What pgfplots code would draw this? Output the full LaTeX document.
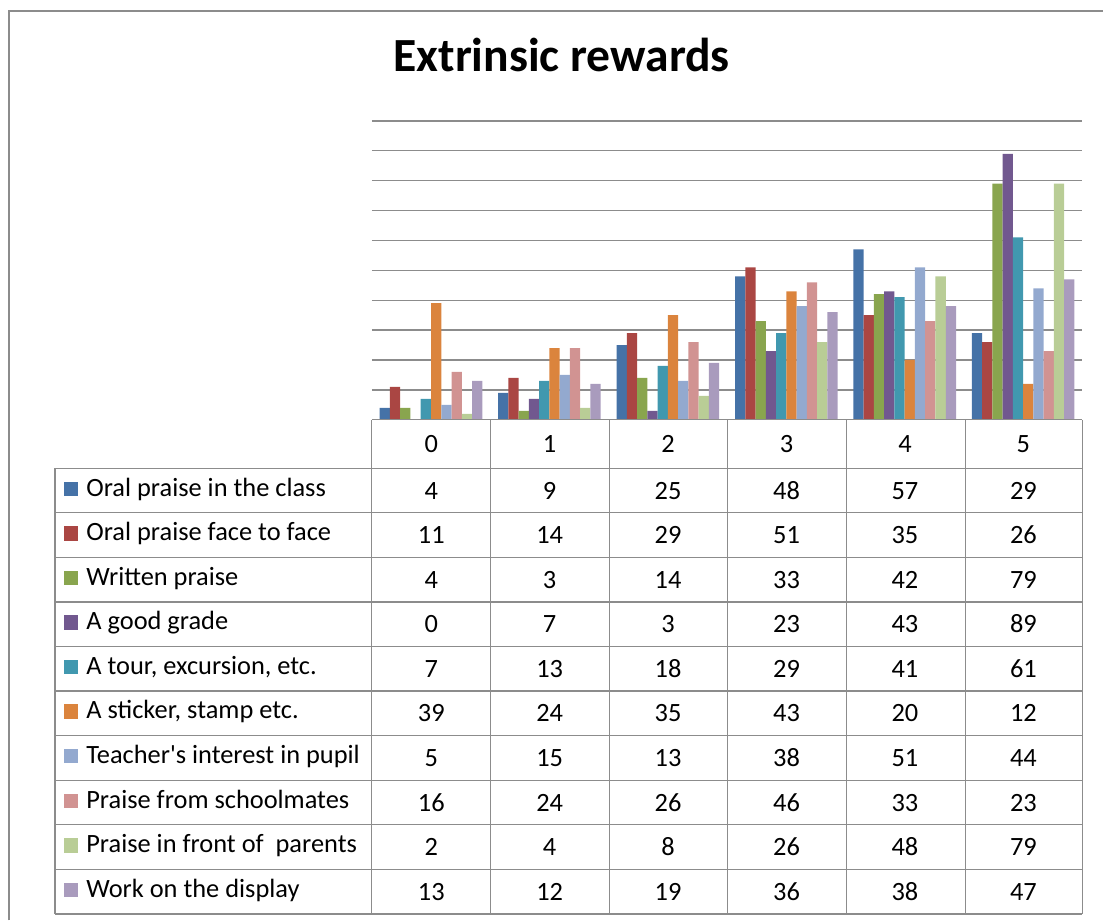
\documentclass[border=0pt]{standalone}
\usepackage{pgfplots}
\usepackage{pgfplotstable}
\pgfplotsset{compat=1.18}
\usepackage{fontspec}
\setmainfont{Carlito}[Ligatures=TeXOff]

% series colours
\definecolor{c1}{HTML}{4572A7}
\definecolor{c2}{HTML}{AA4643}
\definecolor{c3}{HTML}{89A54E}
\definecolor{c4}{HTML}{71588F}
\definecolor{c5}{HTML}{4198AF}
\definecolor{c6}{HTML}{DB843D}
\definecolor{c7}{HTML}{93A9CF}
\definecolor{c8}{HTML}{D19392}
\definecolor{c9}{HTML}{B9CD96}
\definecolor{c10}{HTML}{A99BBD}
\definecolor{linegray}{HTML}{8C8C8C}

% score (0-5) against number of answers for each reward
\pgfplotstableread{
x s1 s2 s3 s4 s5 s6 s7 s8 s9 s10
0 4 11 4 0 7 39 5 16 2 13
1 9 14 3 7 13 24 15 24 4 12
2 25 29 14 3 18 35 13 26 8 19
3 48 51 33 23 29 43 38 46 26 36
4 57 35 42 43 41 20 51 33 48 38
5 29 26 79 89 61 12 44 23 79 47
}\data

\newcommand\tabfont{\fontsize{13.2}{15}\selectfont}

\begin{document}
\begin{tikzpicture}
\begin{scope}[x=0.5pt,y=-0.5pt]
  \path (0,0) rectangle (1104,921);
  % outer frame
  \draw[linegray, line width=0.65pt] (9,921) -- (9,11) -- (1104,11);
  % title
  \node[anchor=base, inner sep=0pt, font=\bfseries\fontsize{23.8}{27}\selectfont] at (562,72) {Extrinsic rewards};
\end{scope}

\begin{axis}[
  at={(186pt,-210pt)}, anchor=south west,
  scale only axis, width=355.5pt, height=149.5pt,
  xmin=-0.5, xmax=5.5, ymin=0, ymax=100,
  xtick=\empty, ytick={10,20,...,100}, yticklabels={},
  major tick length=0pt,
  axis line style={draw=none},
  ymajorgrids, grid style={linegray, line width=0.65pt},
  clip=false,
]
\pgfplotsinvokeforeach{1,...,10}{
  \addplot[ybar, bar shift=0pt, bar width=0.0866, fill=c#1, draw=none]
    table[x expr=\thisrow{x}+(#1-5.5)*0.0866, y=s#1] {\data};
}
\end{axis}

\begin{scope}[x=0.5pt,y=-0.5pt]
  % data table grid
  \def\rowh{44.6}
  \draw[linegray, line width=0.65pt] (372,420) -- (1083,420);
  \foreach \k in {0,...,10} {
    \draw[linegray, line width=0.65pt] (55,468.5+\k*\rowh) -- (1083,468.5+\k*\rowh);
  }
  \draw[linegray, line width=0.65pt] (55,468.5) -- (55,914.5);
  \foreach \cx in {372,491,610,728,847,966,1083} {
    \draw[linegray, line width=0.65pt] (\cx,420) -- (\cx,914.5);
  }
  % header row
  \foreach \r in {0,...,5} {
    \node[anchor=base, inner sep=0pt, font=\tabfont]
      at (431.5+\r*118.5,452.8) {\r};
  }
  % legend column and values
  \foreach \i/\lbl in {1/{Oral praise in the class},
                       2/{Oral praise face to face},
                       3/{Written praise},
                       4/{A good grade},
                       5/{A tour, excursion, etc.},
                       6/{A sticker, stamp etc.},
                       7/{Teacher's interest in pupil},
                       8/{Praise from schoolmates},
                       9/{Praise in front of\ \ parents},
                       10/{Work on the display}} {
    \pgfmathsetmacro{\yc}{468.5+(\i-0.5)*\rowh}
    \fill[c\i] (64,\yc+5.5-14.5) rectangle (78.5,\yc+5.5);
    \node[anchor=base west, inner sep=0pt, font=\tabfont]
      at (86,\yc+5.5) {\lbl};
    \foreach \r in {0,...,5} {
      \pgfplotstablegetelem{\r}{s\i}\of\data
      \node[anchor=base, inner sep=0pt, font=\tabfont]
        at (431.5+\r*118.5,\yc+8.5) {\pgfplotsretval};
    }
  }
\end{scope}
\end{tikzpicture}
\end{document}
